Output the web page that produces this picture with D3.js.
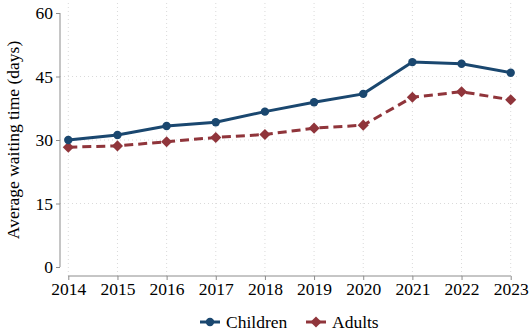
<!DOCTYPE html>
<html>
<head>
<meta charset="utf-8">
<script src="https://cdn.jsdelivr.net/npm/d3@7"></script>
<style>
  html, body { margin: 0; padding: 0; background: #fff; }
  svg { display: block; }
</style>
</head>
<body>
<svg id="chart" width="529" height="331"></svg>
<script>
// Average waiting time by year, children vs adults
const years = [2014, 2015, 2016, 2017, 2018, 2019, 2020, 2021, 2022, 2023];
const children = [30.0, 31.2, 33.3, 34.2, 36.7, 38.9, 40.9, 48.4, 48.0, 45.9];
const adults = [28.3, 28.6, 29.6, 30.6, 31.3, 32.8, 33.5, 40.1, 41.4, 39.5];
const yTicks = [0, 15, 30, 45, 60];
const seriesNames = ["Children", "Adults"];

const BLUE = "#1a476f";
const RED = "#90353b";
const FONT = "'Liberation Serif', 'Times New Roman', serif";
const FS = 17.5;

const svg = d3.select("#chart");
const x = d3.scaleLinear().domain([2014, 2023]).range([68.3, 510.7]);
const y = d3.scaleLinear().domain([0, 60]).range([267, 13]);

// grid
const grid = svg.append("g").attr("stroke", "#dadada").attr("stroke-width", 1)
  .attr("stroke-dasharray", "1,3");
grid.selectAll("line.v").data(years).join("line")
  .attr("x1", d => x(d)).attr("x2", d => x(d))
  .attr("y1", 3).attr("y2", 276);
grid.selectAll("line.h").data(yTicks.filter(t => t > 0 && t < 60)).join("line")
  .attr("x1", 60).attr("x2", 520)
  .attr("y1", d => y(d)).attr("y2", d => y(d));

// y axis
const yAxis = svg.append("g").attr("transform", "translate(60,0)")
  .call(d3.axisLeft(y).tickValues(yTicks).tickSize(4).tickPadding(3));
yAxis.select(".domain").attr("stroke", "#8c8c8c").attr("d", `M0,${y(60)}V${y(0)}`);
yAxis.selectAll(".tick line").attr("stroke", "#8c8c8c");
yAxis.selectAll("text").style("font-size", FS + "px").style("font-family", FONT).attr("fill", "#000");

// x axis
const xAxis = svg.append("g").attr("transform", "translate(0,276)")
  .call(d3.axisBottom(x).tickValues(years).tickFormat(d3.format("d")).tickSize(4).tickPadding(3));
xAxis.select(".domain").attr("stroke", "#8c8c8c").attr("d", `M${x(2014)},0H${x(2023)}`);
xAxis.selectAll(".tick line").attr("stroke", "#8c8c8c");
xAxis.selectAll("text").style("font-size", FS + "px").style("font-family", FONT).attr("fill", "#000");

// y label
svg.append("text")
  .attr("transform", `translate(19,${y(30)}) rotate(-90)`)
  .attr("text-anchor", "middle")
  .style("font-size", FS + "px").style("font-family", FONT).attr("fill", "#000")
  .text("Average waiting time (days)");

const line = d3.line().x((d, i) => x(years[i])).y(d => y(d));
const diamond = d3.symbol().type(d3.symbolSquare).size(62);

// adults (dashed, diamonds)
svg.append("path").datum(adults).attr("d", line)
  .attr("fill", "none").attr("stroke", RED).attr("stroke-width", 3)
  .attr("stroke-dasharray", "9,5");
svg.selectAll("path.ad").data(adults).join("path").attr("class", "ad")
  .attr("d", diamond)
  .attr("transform", (d, i) => `translate(${x(years[i])},${y(d)}) rotate(45)`)
  .attr("fill", RED);

// children (solid, circles)
svg.append("path").datum(children).attr("d", line)
  .attr("fill", "none").attr("stroke", BLUE).attr("stroke-width", 3);
svg.selectAll("circle.ch").data(children).join("circle").attr("class", "ch")
  .attr("cx", (d, i) => x(years[i])).attr("cy", d => y(d)).attr("r", 4.2)
  .attr("fill", BLUE);

// legend
const legend = svg.append("g").attr("transform", "translate(0,322)");
const items = [
  { name: seriesNames[0], color: BLUE, x0: 200, shape: "circle" },
  { name: seriesNames[1], color: RED, x0: 306, shape: "diamond" }
];
items.forEach(it => {
  const g = legend.append("g").attr("transform", `translate(${it.x0},0)`);
  g.append("line").attr("x1", 0).attr("x2", 20).attr("y1", 0).attr("y2", 0)
    .attr("stroke", it.color).attr("stroke-width", 3);
  if (it.shape === "circle") {
    g.append("circle").attr("cx", 10).attr("cy", 0).attr("r", 4.2).attr("fill", it.color);
  } else {
    g.append("path").attr("d", diamond)
      .attr("transform", "translate(10,0) rotate(45)").attr("fill", it.color);
  }
  g.append("text").attr("x", 26).attr("y", 6)
    .style("font-size", FS + "px").style("font-family", FONT).attr("fill", "#000")
    .text(it.name);
});
</script>
</body>
</html>
